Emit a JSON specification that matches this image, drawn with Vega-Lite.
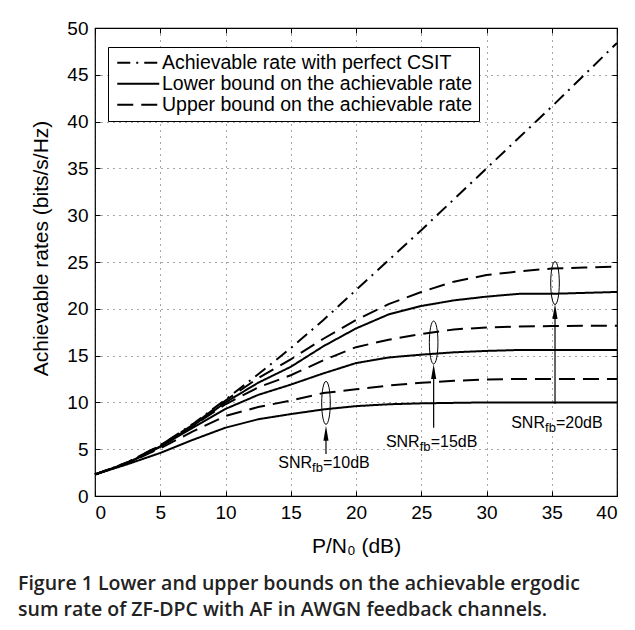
{
  "$schema": "https://vega.github.io/schema/vega-lite/v6.json",
  "width": 522,
  "height": 468,
  "autosize": {"type": "none"},
  "padding": {"left": 95, "top": 28, "right": 18, "bottom": 134},
  "background": "white",
  "datasets": {
    "series": [
      {"c": "P", "b": "Achievable rate with perfect CSIT"},
      {"c": "L10", "b": "Lower bound on the achievable rate"},
      {"c": "L15", "b": "Lower bound on the achievable rate"},
      {"c": "L20", "b": "Lower bound on the achievable rate"},
      {"c": "U10", "b": "Upper bound on the achievable rate"},
      {"c": "U15", "b": "Upper bound on the achievable rate"},
      {"c": "U20", "b": "Upper bound on the achievable rate"}
    ],
    "curves": [
      {"c": "P", "x": 0, "y": 2.3}, {"c": "P", "x": 2.5, "y": 3.6}, {"c": "P", "x": 5, "y": 5.4}, {"c": "P", "x": 7.5, "y": 7.7}, {"c": "P", "x": 10, "y": 10.3}, {"c": "P", "x": 12.5, "y": 13.0}, {"c": "P", "x": 15, "y": 15.8}, {"c": "P", "x": 17.5, "y": 18.8}, {"c": "P", "x": 20, "y": 22.0}, {"c": "P", "x": 22.5, "y": 25.2}, {"c": "P", "x": 25, "y": 28.4}, {"c": "P", "x": 27.5, "y": 31.7}, {"c": "P", "x": 30, "y": 35.0}, {"c": "P", "x": 32.5, "y": 38.3}, {"c": "P", "x": 35, "y": 41.6}, {"c": "P", "x": 37.5, "y": 45.0}, {"c": "P", "x": 40, "y": 48.4},
      {"c": "U20", "x": 0, "y": 2.3}, {"c": "U20", "x": 2.5, "y": 3.6}, {"c": "U20", "x": 5, "y": 5.4}, {"c": "U20", "x": 7.5, "y": 7.6}, {"c": "U20", "x": 10, "y": 10.2}, {"c": "U20", "x": 12.5, "y": 12.6}, {"c": "U20", "x": 15, "y": 14.6}, {"c": "U20", "x": 17.5, "y": 16.8}, {"c": "U20", "x": 20, "y": 18.8}, {"c": "U20", "x": 22.5, "y": 20.5}, {"c": "U20", "x": 25, "y": 21.8}, {"c": "U20", "x": 27.5, "y": 22.9}, {"c": "U20", "x": 30, "y": 23.6}, {"c": "U20", "x": 32.5, "y": 24.0}, {"c": "U20", "x": 35, "y": 24.3}, {"c": "U20", "x": 37.5, "y": 24.4}, {"c": "U20", "x": 40, "y": 24.5},
      {"c": "L20", "x": 0, "y": 2.3}, {"c": "L20", "x": 2.5, "y": 3.55}, {"c": "L20", "x": 5, "y": 5.3}, {"c": "L20", "x": 7.5, "y": 7.5}, {"c": "L20", "x": 10, "y": 10.0}, {"c": "L20", "x": 12.5, "y": 12.1}, {"c": "L20", "x": 15, "y": 13.8}, {"c": "L20", "x": 17.5, "y": 16.0}, {"c": "L20", "x": 20, "y": 17.9}, {"c": "L20", "x": 22.5, "y": 19.4}, {"c": "L20", "x": 25, "y": 20.3}, {"c": "L20", "x": 27.5, "y": 20.9}, {"c": "L20", "x": 30, "y": 21.3}, {"c": "L20", "x": 32.5, "y": 21.6}, {"c": "L20", "x": 35, "y": 21.6}, {"c": "L20", "x": 37.5, "y": 21.7}, {"c": "L20", "x": 40, "y": 21.8},
      {"c": "U15", "x": 0, "y": 2.3}, {"c": "U15", "x": 2.5, "y": 3.55}, {"c": "U15", "x": 5, "y": 5.35}, {"c": "U15", "x": 7.5, "y": 7.5}, {"c": "U15", "x": 10, "y": 9.8}, {"c": "U15", "x": 12.5, "y": 11.6}, {"c": "U15", "x": 15, "y": 12.9}, {"c": "U15", "x": 17.5, "y": 14.5}, {"c": "U15", "x": 20, "y": 15.9}, {"c": "U15", "x": 22.5, "y": 16.7}, {"c": "U15", "x": 25, "y": 17.3}, {"c": "U15", "x": 27.5, "y": 17.8}, {"c": "U15", "x": 30, "y": 18.0}, {"c": "U15", "x": 32.5, "y": 18.1}, {"c": "U15", "x": 35, "y": 18.15}, {"c": "U15", "x": 37.5, "y": 18.2}, {"c": "U15", "x": 40, "y": 18.2},
      {"c": "L15", "x": 0, "y": 2.3}, {"c": "L15", "x": 2.5, "y": 3.5}, {"c": "L15", "x": 5, "y": 5.25}, {"c": "L15", "x": 7.5, "y": 7.3}, {"c": "L15", "x": 10, "y": 9.3}, {"c": "L15", "x": 12.5, "y": 10.8}, {"c": "L15", "x": 15, "y": 11.9}, {"c": "L15", "x": 17.5, "y": 13.1}, {"c": "L15", "x": 20, "y": 14.2}, {"c": "L15", "x": 22.5, "y": 14.8}, {"c": "L15", "x": 25, "y": 15.1}, {"c": "L15", "x": 27.5, "y": 15.35}, {"c": "L15", "x": 30, "y": 15.5}, {"c": "L15", "x": 32.5, "y": 15.6}, {"c": "L15", "x": 35, "y": 15.6}, {"c": "L15", "x": 37.5, "y": 15.6}, {"c": "L15", "x": 40, "y": 15.6},
      {"c": "U10", "x": 0, "y": 2.3}, {"c": "U10", "x": 2.5, "y": 3.5}, {"c": "U10", "x": 5, "y": 5.1}, {"c": "U10", "x": 7.5, "y": 6.9}, {"c": "U10", "x": 10, "y": 8.55}, {"c": "U10", "x": 12.5, "y": 9.5}, {"c": "U10", "x": 15, "y": 10.2}, {"c": "U10", "x": 17.5, "y": 11.0}, {"c": "U10", "x": 20, "y": 11.4}, {"c": "U10", "x": 22.5, "y": 11.8}, {"c": "U10", "x": 25, "y": 12.1}, {"c": "U10", "x": 27.5, "y": 12.3}, {"c": "U10", "x": 30, "y": 12.45}, {"c": "U10", "x": 32.5, "y": 12.5}, {"c": "U10", "x": 35, "y": 12.5}, {"c": "U10", "x": 37.5, "y": 12.5}, {"c": "U10", "x": 40, "y": 12.5},
      {"c": "L10", "x": 0, "y": 2.3}, {"c": "L10", "x": 2.5, "y": 3.4}, {"c": "L10", "x": 5, "y": 4.6}, {"c": "L10", "x": 7.5, "y": 6.0}, {"c": "L10", "x": 10, "y": 7.3}, {"c": "L10", "x": 12.5, "y": 8.2}, {"c": "L10", "x": 15, "y": 8.75}, {"c": "L10", "x": 17.5, "y": 9.25}, {"c": "L10", "x": 20, "y": 9.6}, {"c": "L10", "x": 22.5, "y": 9.8}, {"c": "L10", "x": 25, "y": 9.9}, {"c": "L10", "x": 27.5, "y": 9.95}, {"c": "L10", "x": 30, "y": 10.0}, {"c": "L10", "x": 32.5, "y": 10.0}, {"c": "L10", "x": 35, "y": 10.0}, {"c": "L10", "x": 37.5, "y": 10.0}, {"c": "L10", "x": 40, "y": 10.0}
    ],
    "notes": [
      {"snr": "10dB", "ax": 17.7, "ey": 9.95, "tip": 6.7, "r0": 4.5, "lx": 17.05, "ly": 3.57, "rest": "=10dB"},
      {"snr": "15dB", "ax": 25.95, "ey": 16.4, "tip": 13.3, "r0": 7.3, "lx": 25.3, "ly": 5.8, "rest": "=15dB"},
      {"snr": "20dB", "ax": 35.25, "ey": 22.75, "tip": 19.7, "r0": 9.85, "lx": 34.9, "ly": 7.85, "rest": "=20dB"}
    ]
  },
  "config": {
    "font": "Liberation Sans",
    "view": {"stroke": "black", "strokeWidth": 1.2},
    "axis": {
      "domain": false,
      "labelFont": "Liberation Sans",
      "labelFontSize": 19,
      "labelColor": "black",
      "titleFont": "Liberation Sans",
      "titleFontSize": 21,
      "titleFontWeight": "normal",
      "titleColor": "black",
      "tickColor": "black",
      "tickSize": -5,
      "tickWidth": 1,
      "labelPadding": 12,
      "gridColor": "black",
      "gridOpacity": 0.7,
      "gridDash": [1, 5],
      "gridWidth": 1
    },
    "legend": {
      "labelFont": "Liberation Sans",
      "labelFontSize": 19.5,
      "labelColor": "black",
      "fillColor": "white",
      "strokeColor": "black",
      "padding": 6,
      "rowPadding": 0,
      "symbolType": "M-3,0L3,0",
      "symbolSize": 196,
      "symbolOffset": 14.5,
      "labelOffset": 14,
      "symbolStrokeColor": "black",
      "symbolStrokeWidth": 2,
      "labelLimit": 400
    }
  },
  "title": {
    "text": ["Figure 1 Lower and upper bounds on the achievable ergodic", "sum rate of ZF-DPC with AF in AWGN feedback channels."],
    "orient": "bottom",
    "anchor": "start",
    "frame": "group",
    "dx": -77,
    "offset": 19,
    "font": "Open Sans",
    "fontSize": 19.5,
    "fontWeight": 600,
    "lineHeight": 26,
    "color": "#222"
  },
  "layer": [
    {
      "data": {"name": "curves"},
      "transform": [{"lookup": "c", "from": {"data": {"name": "series"}, "key": "c", "fields": ["b"]}}],
      "mark": {"type": "line", "color": "black", "strokeWidth": 2, "strokeCap": "butt"},
      "encoding": {
        "x": {"field": "x", "type": "quantitative", "scale": {"domain": [0, 40], "nice": false},
              "axis": {"values": [0, 5, 10, 15, 20, 25, 30, 35, 40], "title": "P/N₀ (dB)", "titlePadding": 13, "grid": true}},
        "y": {"field": "y", "type": "quantitative", "scale": {"domain": [0, 50], "nice": false},
              "axis": {"values": [0, 5, 10, 15, 20, 25, 30, 35, 40, 45, 50], "title": "Achievable rates (bits/s/Hz)", "titlePadding": 15, "titleY": 220, "grid": true}},
        "detail": {"field": "c"},
        "strokeDash": {"field": "b", "type": "nominal",
          "scale": {"domain": ["Achievable rate with perfect CSIT", "Lower bound on the achievable rate", "Upper bound on the achievable rate"],
                    "range": [[13, 6, 2, 6], [1, 0], [16, 8]]},
          "legend": {"title": null, "orient": "none", "legendX": 13, "legendY": 19}}
      }
    },
    {
      "data": {"name": "notes"},
      "mark": {"type": "point", "shape": "M0,-1A0.2,1 0 1,1 0,1A0.2,1 0 1,1 0,-1Z", "filled": false, "stroke": "black", "strokeWidth": 1, "size": 1849, "opacity": 1},
      "encoding": {
        "x": {"field": "ax", "type": "quantitative", "axis": null},
        "y": {"field": "ey", "type": "quantitative", "axis": null}
      }
    },
    {
      "data": {"name": "notes"},
      "mark": {"type": "rule", "color": "black", "strokeWidth": 1.2},
      "encoding": {
        "x": {"field": "ax", "type": "quantitative", "axis": null},
        "y": {"field": "r0", "type": "quantitative", "axis": null},
        "y2": {"field": "tip"}
      }
    },
    {
      "data": {"name": "notes"},
      "mark": {"type": "point", "shape": "M0,-1L0.34,1L-0.34,1Z", "filled": true, "color": "black", "size": 225, "opacity": 1},
      "encoding": {
        "x": {"field": "ax", "type": "quantitative", "axis": null},
        "y": {"field": "tip", "type": "quantitative", "axis": null}
      }
    },
    {
      "data": {"name": "notes"},
      "mark": {"type": "text", "align": "right", "baseline": "middle", "dx": -5.5, "fontSize": 16, "color": "black"},
      "encoding": {
        "x": {"field": "lx", "type": "quantitative", "axis": null},
        "y": {"field": "ly", "type": "quantitative", "axis": null},
        "text": {"value": "SNR"}
      }
    },
    {
      "data": {"name": "notes"},
      "mark": {"type": "text", "align": "center", "baseline": "middle", "dy": 5, "fontSize": 13, "color": "black"},
      "encoding": {
        "x": {"field": "lx", "type": "quantitative", "axis": null},
        "y": {"field": "ly", "type": "quantitative", "axis": null},
        "text": {"value": "fb"}
      }
    },
    {
      "data": {"name": "notes"},
      "mark": {"type": "text", "align": "left", "baseline": "middle", "dx": 5.5, "fontSize": 16, "color": "black"},
      "encoding": {
        "x": {"field": "lx", "type": "quantitative", "axis": null},
        "y": {"field": "ly", "type": "quantitative", "axis": null},
        "text": {"field": "rest"}
      }
    },
    {
      "data": {"name": "curves"},
      "mark": {"type": "point", "opacity": 0},
      "encoding": {
        "x": {"field": "x", "type": "quantitative",
              "axis": {"orient": "top", "values": [0, 5, 10, 15, 20, 25, 30, 35, 40], "labels": false, "grid": false, "title": null}},
        "y": {"field": "y", "type": "quantitative",
              "axis": {"orient": "right", "values": [0, 5, 10, 15, 20, 25, 30, 35, 40, 45, 50], "labels": false, "grid": false, "title": null}}
      }
    }
  ],
  "resolve": {"axis": {"x": "independent", "y": "independent"}}
}
